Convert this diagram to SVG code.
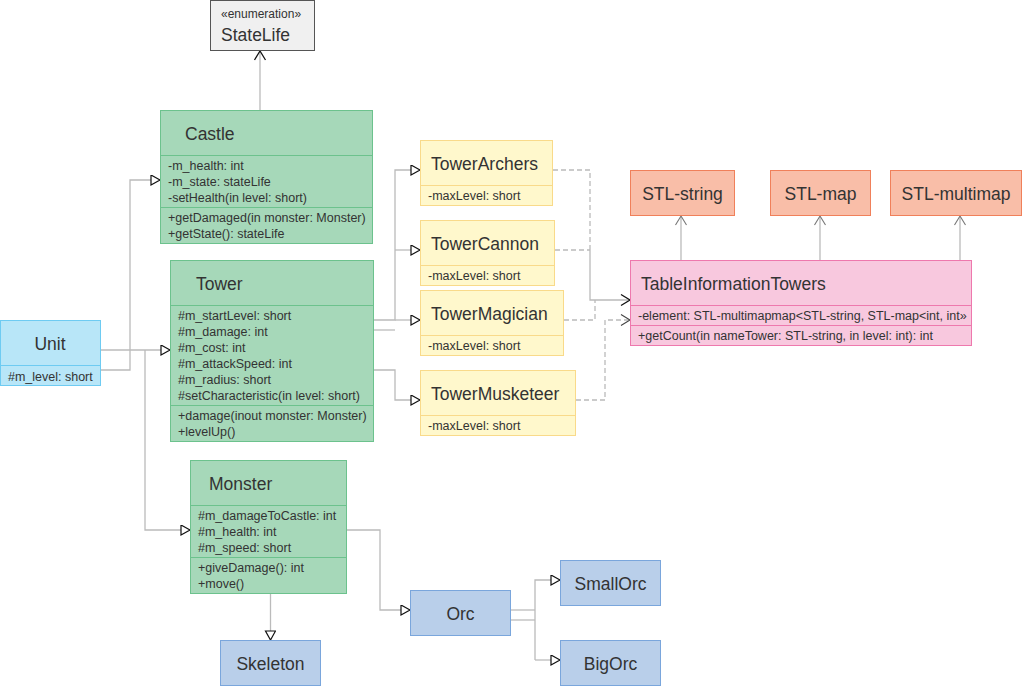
<svg xmlns="http://www.w3.org/2000/svg" width="1022" height="686" viewBox="0 0 1022 686">
  <style>
    text { font-family: "Liberation Sans", Arial, sans-serif; fill: #333333; }
    .title { font-size: 17.5px; }
    .member { font-size: 12.5px; }
    .stereo { font-size: 12px; }
    .mid { text-anchor: middle; }
    .green { fill: #a6d8b9; stroke: #6cc28d; stroke-width: 1; }
    .yellow { fill: #fff8cc; stroke: #f9da8a; stroke-width: 1; }
    .pink { fill: #f8c8de; stroke: #ee78ad; stroke-width: 1; }
    .salmon { fill: #f9bea8; stroke: #f0805a; stroke-width: 1; }
    .sky { fill: #b8e6f8; stroke: #6ecbf2; stroke-width: 1; }
    .steel { fill: #b9cfea; stroke: #7aa6dc; stroke-width: 1; }
    .enum { fill: #f0f0f0; stroke: #555555; stroke-width: 1; }
    .sepg { stroke: #6cc28d; stroke-width: 1; }
    .sepy { stroke: #f9da8a; stroke-width: 1; }
    .sepp { stroke: #ee78ad; stroke-width: 1; }
    .seps { stroke: #6ecbf2; stroke-width: 1; }
    .link { fill: none; stroke: #bbbbbb; stroke-width: 1.3; }
    .dash { fill: none; stroke: #bbbbbb; stroke-width: 1.3; stroke-dasharray: 5 3; }
  </style>
  <defs>
    <!-- hollow triangle used for generalization -->
    <marker id="gen" markerUnits="userSpaceOnUse" markerWidth="12" markerHeight="12" refX="10" refY="5.5" orient="auto" viewBox="0 0 12 12">
      <path d="M1,0.5 L10,5.5 L1,10.5 Z" fill="#ffffff" stroke="#111111" stroke-width="1.2"/>
    </marker>
    <!-- open arrow heads used for associations / dependencies -->
    <marker id="openDark" markerUnits="userSpaceOnUse" markerWidth="12" markerHeight="14" refX="10" refY="6" orient="auto" viewBox="0 0 12 12">
      <path d="M1,0.5 L10,6 L1,11.5" fill="none" stroke="#111111" stroke-width="1.3"/>
    </marker>
    <marker id="openGrey" markerUnits="userSpaceOnUse" markerWidth="12" markerHeight="14" refX="10" refY="6" orient="auto" viewBox="0 0 12 12">
      <path d="M1,0.5 L10,6 L1,11.5" fill="none" stroke="#444444" stroke-width="1.1"/>
    </marker>
    <marker id="openLight" markerUnits="userSpaceOnUse" markerWidth="12" markerHeight="14" refX="10" refY="6" orient="auto" viewBox="0 0 12 12">
      <path d="M1,0.5 L10,6 L1,11.5" fill="none" stroke="#777777" stroke-width="1.1"/>
    </marker>
  </defs>

  <rect width="1022" height="686" fill="#ffffff"/>

  <!-- connectors -->
  <g id="connectors">
    <!-- Castle uses StateLife -->
    <path class="link" d="M260,110 V51" marker-end="url(#openDark)"/>
    <!-- Unit generalizations -->
    <path class="link" d="M100,370 H130 V180 H160" marker-end="url(#gen)"/>
    <path class="link" d="M100,350 H170" marker-end="url(#gen)"/>
    <path class="link" d="M145,350 V530 H190" marker-end="url(#gen)"/>
    <!-- Tower subclasses -->
    <path class="link" d="M373,320 H395 V170 H420" marker-end="url(#gen)"/>
    <path class="link" d="M395,250 H420" marker-end="url(#gen)"/>
    <path class="link" d="M373,330 H395" />
    <path class="link" d="M395,320 H420" marker-end="url(#gen)"/>
    <path class="link" d="M373,370 H395 V400 H420" marker-end="url(#gen)"/>
    <!-- towers depend on TableInformationTowers -->
    <path class="dash" d="M553,170 H590 V250"/>
    <path class="dash" d="M555,250 H590"/>
    <path class="link" d="M590,250 V300 H630" marker-end="url(#openDark)"/>
    <path class="dash" d="M564,320 H595 V300"/>
    <path class="dash" d="M576,400 H605 V320 H630" marker-end="url(#openGrey)"/>
    <!-- TableInformationTowers uses STL containers -->
    <path class="link" d="M631,320 H971"/>
    <path class="link" d="M681,320 V216" marker-end="url(#openLight)"/>
    <path class="link" d="M820,320 V216" marker-end="url(#openLight)"/>
    <path class="link" d="M971,290 H960 V216" marker-end="url(#openLight)"/>
    <!-- Monster subclasses -->
    <path class="link" d="M270.5,594 V640" marker-end="url(#gen)"/>
    <path class="link" d="M347,530 H380 V610 H410" marker-end="url(#gen)"/>
    <!-- Orc subclasses -->
    <path class="link" d="M511,610 H535"/>
    <path class="link" d="M511,620 H535"/>
    <path class="link" d="M535,660 V580 H560" marker-end="url(#gen)"/>
    <path class="link" d="M535,660 H560" marker-end="url(#gen)"/>
  </g>

  <g id="StateLife">
    <rect class="enum" x="210.5" y="0.5" width="104" height="50"/>
    <text class="stereo" x="221" y="18">«enumeration»</text>
    <text class="title" x="221" y="41">StateLife</text>
  </g>

  <g id="Castle">
    <rect class="green" x="160.5" y="110.5" width="212" height="133"/>
    <line class="sepg" x1="160.5" y1="155.5" x2="372.5" y2="155.5"/>
    <line class="sepg" x1="160.5" y1="207.5" x2="372.5" y2="207.5"/>
    <text class="title" x="185" y="139.5">Castle</text>
    <text class="member" x="168" y="170">-m_health: int</text>
    <text class="member" x="168" y="186">-m_state: stateLife</text>
    <text class="member" x="168" y="202">-setHealth(in level: short)</text>
    <text class="member" x="168" y="222">+getDamaged(in monster: Monster)</text>
    <text class="member" x="168" y="238">+getState(): stateLife</text>
  </g>

  <g id="Tower">
    <rect class="green" x="170.5" y="260.5" width="203" height="181"/>
    <line class="sepg" x1="170.5" y1="305.5" x2="373.5" y2="305.5"/>
    <line class="sepg" x1="170.5" y1="405.5" x2="373.5" y2="405.5"/>
    <text class="title" x="196" y="290">Tower</text>
    <text class="member" x="178" y="320">#m_startLevel: short</text>
    <text class="member" x="178" y="336">#m_damage: int</text>
    <text class="member" x="178" y="352">#m_cost: int</text>
    <text class="member" x="178" y="368">#m_attackSpeed: int</text>
    <text class="member" x="178" y="384">#m_radius: short</text>
    <text class="member" x="178" y="400">#setCharacteristic(in level: short)</text>
    <text class="member" x="178" y="420">+damage(inout monster: Monster)</text>
    <text class="member" x="178" y="436">+levelUp()</text>
  </g>

  <g id="Unit">
    <rect class="sky" x="0.5" y="320.5" width="100" height="65"/>
    <line class="seps" x1="0.5" y1="365.5" x2="100.5" y2="365.5"/>
    <text class="title mid" x="50" y="350">Unit</text>
    <text class="member" x="8" y="380.5">#m_level: short</text>
  </g>

  <g id="TowerArchers">
    <rect class="yellow" x="420.5" y="140.5" width="132" height="65"/>
    <line class="sepy" x1="420.5" y1="185.5" x2="552.5" y2="185.5"/>
    <text class="title" x="431" y="170">TowerArchers</text>
    <text class="member" x="428" y="200">-maxLevel: short</text>
  </g>

  <g id="TowerCannon">
    <rect class="yellow" x="420.5" y="220.5" width="134" height="65"/>
    <line class="sepy" x1="420.5" y1="265.5" x2="554.5" y2="265.5"/>
    <text class="title" x="431" y="250">TowerCannon</text>
    <text class="member" x="428" y="280">-maxLevel: short</text>
  </g>

  <g id="TowerMagician">
    <rect class="yellow" x="420.5" y="290.5" width="143" height="65"/>
    <line class="sepy" x1="420.5" y1="335.5" x2="563.5" y2="335.5"/>
    <text class="title" x="431" y="320">TowerMagician</text>
    <text class="member" x="428" y="350">-maxLevel: short</text>
  </g>

  <g id="TowerMusketeer">
    <rect class="yellow" x="420.5" y="370.5" width="155" height="65"/>
    <line class="sepy" x1="420.5" y1="415.5" x2="575.5" y2="415.5"/>
    <text class="title" x="431" y="400">TowerMusketeer</text>
    <text class="member" x="428" y="430">-maxLevel: short</text>
  </g>

  <g id="STL-string">
    <rect class="salmon" x="630.5" y="170.5" width="104" height="45"/>
    <text class="title mid" x="682.5" y="200">STL-string</text>
  </g>

  <g id="STL-map">
    <rect class="salmon" x="770.5" y="170.5" width="100" height="45"/>
    <text class="title mid" x="820.5" y="200">STL-map</text>
  </g>

  <g id="STL-multimap">
    <rect class="salmon" x="890.5" y="170.5" width="131" height="45"/>
    <text class="title mid" x="956" y="200">STL-multimap</text>
  </g>

  <g id="TableInformationTowers">
    <rect class="pink" x="630.5" y="260.5" width="341" height="85"/>
    <line class="sepp" x1="630.5" y1="305.5" x2="971.5" y2="305.5"/>
    <line class="sepp" x1="630.5" y1="325.5" x2="971.5" y2="325.5"/>
    <text class="title" x="641" y="289.5">TableInformationTowers</text>
    <text class="member" x="638" y="320">-element: STL-multimapmap&lt;STL-string, STL-map&lt;int, int»</text>
    <text class="member" x="638" y="340">+getCount(in nameTower: STL-string, in level: int): int</text>
  </g>

  <g id="Monster">
    <rect class="green" x="190.5" y="460.5" width="156" height="133"/>
    <line class="sepg" x1="190.5" y1="505.5" x2="346.5" y2="505.5"/>
    <line class="sepg" x1="190.5" y1="557.5" x2="346.5" y2="557.5"/>
    <text class="title" x="209" y="490">Monster</text>
    <text class="member" x="198" y="520">#m_damageToCastle: int</text>
    <text class="member" x="198" y="536">#m_health: int</text>
    <text class="member" x="198" y="552">#m_speed: short</text>
    <text class="member" x="198" y="572">+giveDamage(): int</text>
    <text class="member" x="198" y="588">+move()</text>
  </g>

  <g id="Skeleton">
    <rect class="steel" x="220.5" y="640.5" width="100" height="45"/>
    <text class="title mid" x="270.5" y="669.5">Skeleton</text>
  </g>

  <g id="Orc">
    <rect class="steel" x="410.5" y="590.5" width="100" height="45"/>
    <text class="title mid" x="460.5" y="619.5">Orc</text>
  </g>

  <g id="SmallOrc">
    <rect class="steel" x="560.5" y="560.5" width="100" height="45"/>
    <text class="title mid" x="610.5" y="589.5">SmallOrc</text>
  </g>

  <g id="BigOrc">
    <rect class="steel" x="560.5" y="640.5" width="100" height="45"/>
    <text class="title mid" x="610.5" y="669.5">BigOrc</text>
  </g>
</svg>
